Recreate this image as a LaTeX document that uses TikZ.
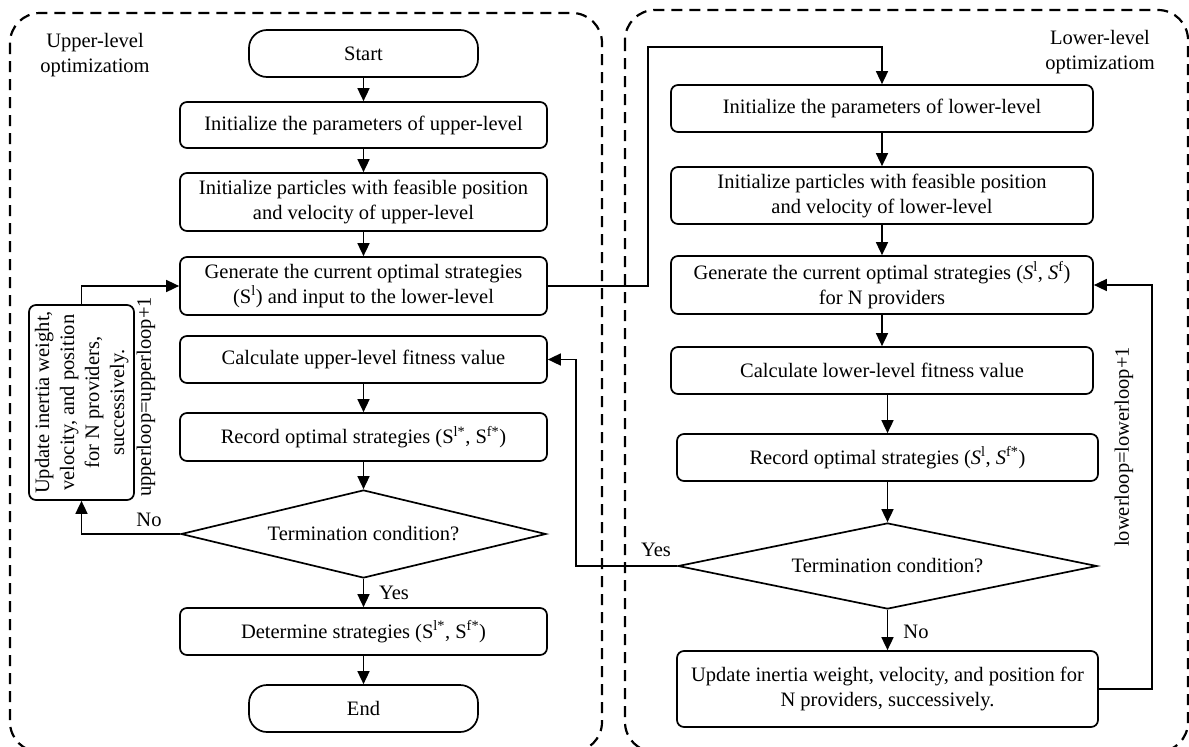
\documentclass[tikz,border=0pt]{standalone}
\usepackage{fontspec}
\setmainfont{Liberation Serif}
\usetikzlibrary{shapes.geometric,arrows.meta}
\begin{document}
\begin{tikzpicture}[x=1pt,y=-1pt,
  every node/.style={font=\fontsize{20.5}{25}\selectfont},
  box/.style={draw, line width=1.7pt, rounded corners=7pt, align=center, inner sep=0pt},
  term/.style={box, rounded corners=18pt},
  dec/.style={draw, diamond, line width=1.7pt, inner sep=0pt, align=center},
  arr/.style={line width=1.6pt, -{Triangle[length=13pt,width=12pt]}},
  frame/.style={draw, dash pattern=on 11pt off 7pt, line width=2.2pt, rounded corners=30pt},
  lab/.style={inner sep=0pt, align=center}
]
\useasboundingbox (0,0) rectangle (1189,747);
% containers
\draw[frame] (10,13) rectangle (602,752);
\draw[frame] (625,10) rectangle (1188,752);
% titles
\node[lab] (tu) at (95,55) {Upper-level\\optimizatiom};
\node[lab] (tl) at (1100,52.5) {Lower-level\\optimizatiom};
% upper level
\node[term, minimum width=229, minimum height=47] (st) at (363.5,53.5) {Start};
\node[box, minimum width=367, minimum height=46] (ipu) at (363.5,125) {Initialize the parameters of upper-level};
\node[box, minimum width=367, minimum height=58] (ppu) at (363.5,202) {Initialize particles with feasible position\\and velocity of upper-level};
\node[box, minimum width=367, minimum height=58] (gu) at (363.5,286) {Generate the current optimal strategies\\(S\textsuperscript{l}) and input to the lower-level};
\node[box, minimum width=367, minimum height=47] (cu) at (363.5,359.5) {Calculate upper-level fitness value};
\node[box, minimum width=367, minimum height=48] (ru) at (363.5,437) {Record optimal strategies (S\textsuperscript{l*}, S\textsuperscript{f*})};
\node[dec, shape aspect=4.15, minimum width=365, minimum height=88] (du) at (363.5,534) {Termination condition?};
\node[box, minimum width=367, minimum height=47] (dt) at (363.5,631.5) {Determine strategies (S\textsuperscript{l*}, S\textsuperscript{f*})};
\node[term, minimum width=229, minimum height=47] (en) at (363.5,708.5) {End};
\node[box, minimum width=105, minimum height=195] (uu) at (81.5,402.5) {\rotatebox{90}{\setlength{\tabcolsep}{0pt}\begin{tabular}{c}Update inertia weight,\\velocity, and position\\for N providers,\\successively.\end{tabular}}};
\node[lab, rotate=90] (lu) at (146,397) {upperloop=upperloop+1};
% lower level
\node[box, minimum width=422, minimum height=47] (il) at (882,108.5) {Initialize the parameters of lower-level};
\node[box, minimum width=422, minimum height=57] (pl) at (882,195.5) {Initialize particles with feasible position\\and velocity of lower-level};
\node[box, minimum width=422, minimum height=58] (gl) at (882,285) {Generate the current optimal strategies (\textit{S}\textsuperscript{l}, \textit{S}\textsuperscript{f})\\for N providers};
\node[box, minimum width=422, minimum height=47] (cl) at (882,370.5) {Calculate lower-level fitness value};
\node[box, minimum width=421, minimum height=47] (rl) at (887.5,457.5) {Record optimal strategies (\textit{S}\textsuperscript{l}, \textit{S}\textsuperscript{f*})};
\node[dec, shape aspect=4.9, minimum width=419, minimum height=86] (dl) at (887.5,566) {Termination condition?};
\node[box, minimum width=421, minimum height=76] (ul) at (887.5,689) {Update inertia weight, velocity, and position for\\N providers, successively.};
\node[lab, rotate=90] (ll) at (1124,447) {lowerloop=lowerloop+1};
% branch labels
\node[lab] (no1) at (149,520) {No};
\node[lab] (ye1) at (394,593) {Yes};
\node[lab] (ye2) at (656,550) {Yes};
\node[lab] (no2) at (916,632) {No};
% connectors upper
\draw[arr] (st) -- (ipu);
\draw[arr] (ipu) -- (ppu);
\draw[arr] (ppu) -- (gu);
\draw[arr] (cu) -- (ru);
\draw[arr] (ru) -- (du);
\draw[arr] (du) -- (dt);
\draw[arr] (dt) -- (en);
\draw[arr] (du.west) -| (uu.south);
\draw[arr] (uu.north) |- (gu.west);
\coordinate (c1) at (648,47);
\draw[arr] (gu.east) -| (c1) -| (il.north);
% connectors lower
\draw[arr] (il) -- (pl);
\draw[arr] (pl) -- (gl);
\draw[arr] (gl) -- (cl);
\draw[arr] (cl.south -| rl.north) -- (rl.north);
\draw[arr] (rl) -- (dl);
\draw[arr] (dl) -- (ul);
\coordinate (c2) at (1152,0);
\draw[arr] (ul.east) -| (c2 |- gl.east) -- (gl.east);
\coordinate (c3) at (576,0);
\draw[arr] (dl.west) -| (c3 |- cu.east) -- (cu.east);
\end{tikzpicture}
\end{document}
